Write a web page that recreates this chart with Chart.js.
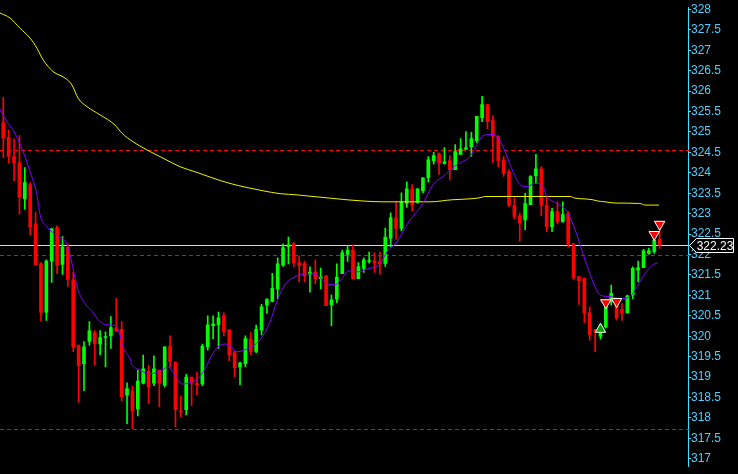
<!DOCTYPE html>
<html>
<head>
<meta charset="utf-8">
<script src="https://cdn.jsdelivr.net/npm/chart.js@4/dist/chart.umd.min.js"></script>
<style>
  html, body { margin: 0; padding: 0; background: #000; }
  canvas { display: block; background: #000; }
</style>
</head>
<body>
<canvas id="mycanvas" width="738" height="474"></canvas>
<script>
// candle data, one entry per bar
var opens  = [325.23,324.87,324.40,324.25,323.36,323.71,322.75,321.78,320.58,321.84,322.66,321.76,322.18,321.38,319.77,319.33,319.87,320.09,319.81,319.97,320.01,320.21,320.17,318.56,318.66,318.22,318.85,319.14,318.85,319.17,318.80,319.76,319.37,318.17,318.20,319.00,318.85,318.83,319.74,320.26,320.28,320.50,320.15,319.60,319.25,319.33,319.93,319.63,320.15,320.76,320.85,321.16,321.74,322.19,322.26,321.80,321.78,321.51,321.57,321.41,321.48,320.77,320.91,321.53,322.00,322.11,321.41,321.66,321.83,321.84,321.82,321.78,322.40,322.90,322.64,323.25,323.61,323.28,323.56,323.88,324.29,324.47,324.23,324.30,324.08,324.45,324.57,324.64,324.79,325.35,325.67,325.28,324.89,324.32,324.03,323.20,322.95,322.85,323.22,323.93,324.10,323.20,322.68,323.05,322.80,323.00,322.27,321.46,321.42,320.57,320.16,320.00,320.23,320.84,320.78,320.66,320.57,321.01,321.62,321.68,322.03,322.07,322.38];
var highs  = [325.85,325.05,324.83,324.91,324.13,323.76,323.03,321.80,321.87,322.64,322.71,322.44,322.26,321.57,319.79,319.87,320.36,320.14,320.14,320.11,320.48,320.93,320.36,318.86,318.78,319.17,319.54,319.29,319.52,319.17,319.74,320.01,319.37,318.54,319.07,319.00,319.12,319.81,320.50,320.50,320.59,320.57,320.17,319.65,319.37,320.01,320.09,320.27,320.78,320.92,321.54,321.92,322.26,322.43,322.29,321.97,321.84,321.70,321.87,321.67,321.48,321.01,321.77,322.11,322.21,322.24,321.80,321.92,322.06,322.04,322.06,322.65,323.02,323.29,323.51,323.78,323.71,323.61,323.88,324.40,324.50,324.49,324.62,324.42,324.69,324.84,325.01,324.99,325.38,325.87,325.67,325.40,324.91,324.40,324.08,323.38,323.02,323.50,323.93,324.45,324.15,323.42,323.13,323.29,323.29,323.05,322.27,321.46,321.43,320.72,320.17,320.30,320.80,321.25,320.90,320.80,321.01,321.70,321.84,322.13,322.15,322.40,322.60];
var lows   = [324.37,324.24,323.81,322.99,323.11,322.48,321.74,320.37,320.39,321.32,321.53,321.51,321.22,319.62,318.38,318.67,319.78,319.29,319.54,319.25,319.70,320.11,318.41,317.86,317.73,318.05,318.83,318.35,318.79,318.27,318.76,319.25,317.78,318.03,318.08,318.30,318.57,318.79,319.66,319.94,319.70,320.01,319.40,319.01,318.81,319.25,319.55,319.60,320.03,320.56,320.84,320.92,321.71,321.77,321.70,321.33,321.33,321.08,321.28,321.16,320.75,320.26,320.82,321.53,321.83,321.40,321.41,321.56,321.79,321.56,321.51,321.71,322.19,322.37,322.58,323.15,323.07,323.25,323.51,323.77,324.21,323.96,324.21,323.82,324.08,324.45,324.57,324.40,324.74,325.25,325.08,324.25,324.15,323.91,323.17,322.87,322.32,322.61,323.22,323.74,322.95,322.56,322.56,322.75,322.80,322.19,321.39,320.78,320.33,319.90,319.62,319.93,320.20,320.76,320.40,320.39,320.57,320.92,321.33,321.68,322.00,322.03,322.15];
var closes = [324.85,324.40,324.24,323.40,323.76,322.67,321.75,320.58,321.84,322.63,321.74,322.18,321.39,319.73,319.28,319.74,320.13,319.82,319.97,319.99,320.21,320.13,318.52,318.72,318.17,318.90,319.20,318.76,319.20,318.85,319.74,319.38,318.20,318.14,319.00,318.86,318.80,319.76,320.28,320.30,320.45,320.11,319.55,319.23,319.34,319.94,319.62,320.17,320.72,320.90,321.17,321.77,322.17,322.24,321.80,321.73,321.48,321.57,321.41,321.45,320.75,320.89,321.45,322.04,322.11,321.40,321.70,321.87,321.85,321.80,321.77,322.43,322.90,322.64,323.28,323.61,323.21,323.61,323.88,324.32,324.42,324.23,324.27,324.08,324.52,324.59,324.62,324.84,325.38,325.67,325.25,324.89,324.30,323.99,323.20,322.93,322.78,323.25,323.91,324.10,323.20,322.68,323.05,322.80,322.98,322.25,321.42,321.36,320.57,320.04,320.11,320.20,320.75,321.05,320.45,320.57,320.99,321.66,321.68,322.09,322.09,322.35,322.23];

// short moving average (purple), read at bar positions
var fastIdx = [-0.61,0.69,2.17,4.03,4.96,6.26,6.82,8.12,10.17,11.84,12.77,13.88,15.19,16.49,17.97,19.28,20.76,21.69,22.25,23.55,23.92,25.04,27.27,29.68,30.61,31.91,33.22,35.07,36.19,37.49,38.79,39.91,41.21,42.14,43.44,44.93,47.71,49.57,51.06,52.36,53.85,56.45,58.31,60.17,61.65,62.95,64.07,65.93,67.79,70.02,71.32,73.18,75.04,76.15,78.01,79.87,81.73,84.33,86.75,88.05,89.16,90.46,91.76,92.88,94.74,96.04,97.34,98.83,100.13,101.06,102.92,104.78,106.27,108.13,109.62,110.92,112.77,114.63,116.49,117.79,118.90,120.58,121.69];
var fastVal = [325.55,325.25,324.97,324.40,324.03,323.47,322.98,322.68,322.44,322.25,321.78,321.14,320.80,320.61,320.36,320.28,320.26,320.04,319.74,319.45,319.30,319.20,319.08,319.18,319.25,319.05,318.83,318.88,318.96,319.20,319.54,319.74,319.81,319.76,319.62,319.67,319.91,320.35,320.92,321.26,321.43,321.53,321.50,321.28,321.26,321.41,321.60,321.58,321.65,321.77,322.07,322.31,322.73,322.93,323.25,323.71,323.91,324.20,324.40,324.69,324.91,324.94,324.89,324.64,324.03,323.71,323.66,323.74,323.71,323.42,323.25,323.05,322.61,321.87,321.33,321.01,320.97,320.92,320.97,321.21,321.46,321.73,321.80];

// long moving average (yellow)
var slowIdx = [-0.61,1.25,3.10,4.96,6.26,7.38,9.24,11.47,12.77,13.88,15.56,17.97,20.76,22.06,24.11,26.71,29.68,32.84,36.0,38.98,42.14,45.30,48.27,51.43,54.59,57.56,60.72,63.88,66.86,70.58,74.29,79.31,83.4,86.37,88.61,89.5,105.34,106.27,108.13,109.6,110.5,111.84,113.7,118.3,119.3,121.88];
var slowVal = [327.91,327.79,327.54,327.30,327.05,326.77,326.48,326.32,326.15,325.83,325.62,325.42,325.17,324.97,324.76,324.56,324.36,324.15,324.01,323.87,323.74,323.64,323.56,323.49,323.46,323.42,323.38,323.34,323.31,323.29,323.29,323.29,323.34,323.36,323.39,323.42,323.42,323.38,323.36,323.34,323.31,323.29,323.26,323.25,323.21,323.21];

// arrows
var sellIdx = [112,114,121,122];
var sellVal = [320.82,320.85,322.49,322.74];
var buyIdx = [111];
var buyVal = [320.17];

var levels = [324.57, 321.98, 317.73];
var lastPrice = 322.23;
var tickVals = [317,317.5,318,318.5,319,319.5,320,320.5,321,321.5,322,322.5,323,323.5,324,324.5,325,325.5,326,326.5,327,327.5,328];

var UP = '#00ff00', DOWN = '#ff0000', AXIS = '#40e0ff';

var wicks = [], bodies = [], colors = [];
for (var i = 0; i < opens.length; i++) {
  wicks.push({x: i, y: [lows[i], highs[i]]});
  bodies.push({x: i, y: [opens[i], closes[i]]});
  colors.push(closes[i] >= opens[i] ? UP : DOWN);
}
function pts(xs, ys) {
  var out = [];
  for (var k = 0; k < xs.length; k++) out.push({x: xs[k], y: ys[k]});
  return out;
}

// level lines + price tag
var overlay = {
  id: 'overlay',
  beforeDatasetsDraw: function(chart) {
    var ctx = chart.ctx, y = chart.scales.y, area = chart.chartArea;
    ctx.save();
    ctx.lineWidth = 1;
    ctx.strokeStyle = '#ff0000';
    ctx.setLineDash([4, 3]);
    levels.forEach(function(v) {
      var py = Math.round(y.getPixelForValue(v)) + 0.5;
      ctx.beginPath(); ctx.moveTo(0, py); ctx.lineTo(area.right + 2, py); ctx.stroke();
    });
    ctx.setLineDash([]);
    var ly = Math.round(y.getPixelForValue(lastPrice)) + 0.5;
    ctx.strokeStyle = '#80ffff';
    ctx.beginPath(); ctx.moveTo(0, ly); ctx.lineTo(area.right, ly); ctx.stroke();
    ctx.restore();
  },
  afterDraw: function(chart) {
    var ctx = chart.ctx, y = chart.scales.y, area = chart.chartArea;
    var ly = Math.round(y.getPixelForValue(lastPrice)) + 0.5;
    var x0 = area.right + 1.5;
    ctx.save();
    ctx.beginPath();
    ctx.moveTo(x0, ly);
    ctx.lineTo(x0 + 7, ly - 7);
    ctx.lineTo(733.5, ly - 7);
    ctx.lineTo(733.5, ly + 7);
    ctx.lineTo(x0 + 7, ly + 7);
    ctx.closePath();
    ctx.fillStyle = '#000';
    ctx.fill();
    ctx.strokeStyle = '#ffffff';
    ctx.lineWidth = 1;
    ctx.stroke();
    ctx.fillStyle = '#ffffff';
    ctx.font = '12px "Liberation Sans", Arial, sans-serif';
    ctx.textAlign = 'center';
    ctx.textBaseline = 'middle';
    ctx.fillText(lastPrice.toFixed(2), 715, ly + 1);
    ctx.restore();
  }
};

var ctx = document.getElementById('mycanvas');
var chart = new Chart(ctx, {
  type: 'bar',
  data: {
    datasets: [
      {type: 'scatter', data: pts(sellIdx, sellVal), pointStyle: 'triangle', rotation: 180, pointRadius: 6,
       backgroundColor: '#ff0000', borderColor: '#ffffff', borderWidth: 1, order: 0},
      {type: 'scatter', data: pts(buyIdx, buyVal), pointStyle: 'triangle', rotation: 0, pointRadius: 6,
       backgroundColor: '#00a000', borderColor: '#ffffff', borderWidth: 1, order: 0},
      {type: 'line', data: pts(fastIdx, fastVal), borderColor: '#8000ff', borderWidth: 1, pointRadius: 0,
       cubicInterpolationMode: 'monotone', order: 1},
      {type: 'line', data: pts(slowIdx, slowVal), borderColor: '#f0f000', borderWidth: 1, pointRadius: 0,
       cubicInterpolationMode: 'monotone', order: 1},
      {data: bodies, backgroundColor: colors, barThickness: 3, minBarLength: 1, grouped: false, order: 2},
      {data: wicks, backgroundColor: colors, barThickness: 1, grouped: false, order: 3}
    ]
  },
  options: {
    responsive: false,
    animation: false,
    events: [],
    layout: {padding: 0, autoPadding: false},
    plugins: {legend: {display: false}, tooltip: {enabled: false}},
    scales: {
      x: {type: 'linear', display: false, min: -0.613, max: 127.27, offset: false},
      y: {
        position: 'right',
        min: 316.804, max: 328.054,
        afterBuildTicks: function(scale) {
          scale.ticks = tickVals.map(function(v) { return {value: v}; });
        },
        afterFit: function(scale) {
          scale.width = 50;
        },
        grid: {drawOnChartArea: false, drawTicks: true, tickLength: 3, color: AXIS},
        border: {display: true, color: AXIS},
        ticks: {
          autoSkip: false, padding: 0, color: '#50d0ff',
          font: {family: '"Liberation Sans", Arial, sans-serif', size: 12},
          callback: function(v) { return v % 1 === 0 ? String(v) : v.toFixed(1); }
        }
      }
    }
  },
  plugins: [overlay]
});
</script>
</body>
</html>
